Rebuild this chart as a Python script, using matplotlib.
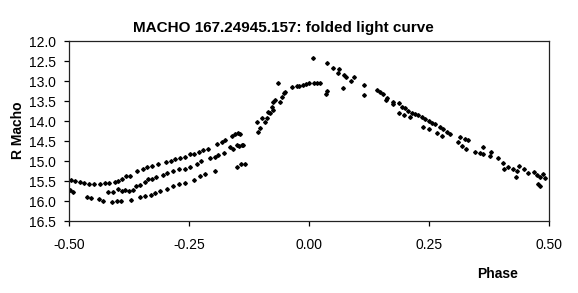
import matplotlib
matplotlib.use("Agg")
import matplotlib.pyplot as plt
from matplotlib.ticker import FormatStrFormatter

plt.rcParams["font.family"] = ["Liberation Sans", "DejaVu Sans"]
plt.rcParams["axes.unicode_minus"] = False

### folded light curve
# left part, three bands
top_phase = [-0.495, -0.488, -0.478, -0.468, -0.458, -0.447, -0.435, -0.425, -0.416, -0.405,
             -0.398, -0.390, -0.381, -0.373, -0.358, -0.345, -0.337, -0.328, -0.314, -0.298,
             -0.288, -0.279, -0.269, -0.258, -0.248, -0.240, -0.230, -0.220, -0.210, -0.192,
             -0.182, -0.175, -0.161, -0.154, -0.147, -0.144]
top_mag = [15.47, 15.50, 15.52, 15.55, 15.57, 15.57, 15.57, 15.55, 15.55, 15.53,
           15.49, 15.44, 15.37, 15.38, 15.25, 15.20, 15.16, 15.12, 15.08, 15.03,
           14.99, 14.96, 14.92, 14.89, 14.83, 14.82, 14.78, 14.72, 14.71, 14.58,
           14.52, 14.48, 14.38, 14.33, 14.29, 14.33]

mid_phase = [-0.498, -0.491, -0.418, -0.408, -0.397, -0.390, -0.383, -0.376, -0.366, -0.360,
             -0.352, -0.342, -0.335, -0.327, -0.318, -0.305, -0.296, -0.283, -0.270, -0.258,
             -0.248, -0.234, -0.224, -0.206, -0.196, -0.189, -0.178, -0.165, -0.158, -0.151,
             -0.145, -0.138]
mid_mag = [15.72, 15.77, 15.77, 15.77, 15.70, 15.75, 15.72, 15.74, 15.72, 15.63,
           15.60, 15.52, 15.45, 15.45, 15.40, 15.35, 15.30, 15.25, 15.20, 15.20,
           15.16, 15.07, 15.01, 14.93, 14.89, 14.85, 14.81, 14.66, 14.71, 14.60,
           14.63, 14.59]

low_phase = [-0.463, -0.455, -0.437, -0.430, -0.410, -0.400, -0.392, -0.370, -0.352, -0.342,
             -0.330, -0.320, -0.310, -0.296, -0.283, -0.270, -0.258, -0.240, -0.227, -0.217,
             -0.196, -0.151, -0.141, -0.134]
low_mag = [15.89, 15.93, 15.95, 15.99, 16.02, 16.00, 16.00, 15.98, 15.90, 15.88,
           15.85, 15.80, 15.75, 15.70, 15.63, 15.57, 15.55, 15.48, 15.37, 15.33,
           15.25, 15.14, 15.07, 15.07]

# rise to maximum
rise_phase = [-0.140, -0.109, -0.106, -0.102, -0.098, -0.091, -0.088, -0.085, -0.081, -0.078,
              -0.074, -0.074, -0.071, -0.064, -0.060, -0.057, -0.053, -0.050, -0.036, -0.026,
              -0.020, -0.012, -0.007, -0.001, 0.010, 0.017, 0.023]
rise_mag = [14.60, 14.02, 14.27, 14.18, 13.93, 14.02, 13.93, 13.77, 13.81, 13.64,
            13.73, 13.52, 13.47, 13.06, 13.52, 13.39, 13.31, 13.27, 13.16, 13.12,
            13.12, 13.10, 13.08, 13.06, 13.06, 13.06, 13.04]

# near maximum
peak_phase = [0.009, 0.038, 0.035, 0.038, 0.051, 0.061, 0.063, 0.070, 0.073, 0.078,
              0.087, 0.094, 0.114]
peak_mag = [12.43, 12.54, 13.33, 13.24, 12.68, 12.79, 12.71, 13.18, 12.85, 12.91,
            13.00, 12.91, 13.10]

# decline
fall_phase = [0.115, 0.141, 0.148, 0.155, 0.162, 0.160, 0.176, 0.176, 0.188, 0.193,
              0.200, 0.207, 0.214, 0.221, 0.228, 0.235, 0.242, 0.249, 0.256, 0.263,
              0.273, 0.280, 0.287, 0.294, 0.188, 0.198, 0.210, 0.238, 0.249, 0.266,
              0.277, 0.315, 0.325, 0.332, 0.311, 0.318, 0.327, 0.346, 0.356, 0.363,
              0.362, 0.377, 0.380, 0.394, 0.405, 0.406, 0.415, 0.426, 0.433, 0.438,
              0.447, 0.431, 0.457, 0.468, 0.475, 0.481, 0.488, 0.492, 0.478, 0.481]
fall_mag = [13.35, 13.22, 13.27, 13.32, 13.43, 13.47, 13.52, 13.57, 13.54, 13.64,
            13.68, 13.74, 13.79, 13.82, 13.85, 13.91, 13.96, 14.00, 14.04, 14.08,
            14.14, 14.21, 14.27, 14.32, 13.79, 13.85, 13.91, 14.14, 14.21, 14.31,
            14.38, 14.39, 14.46, 14.47, 14.52, 14.62, 14.71, 14.77, 14.81, 14.66,
            14.82, 14.87, 14.77, 14.93, 15.06, 15.21, 15.16, 15.21, 15.24, 15.13,
            15.21, 15.39, 15.31, 15.27, 15.35, 15.39, 15.33, 15.43, 15.57, 15.62]

x_ticks = [-0.50, -0.25, 0.00, 0.25, 0.50]
y_ticks = [12.0, 12.5, 13.0, 13.5, 14.0, 14.5, 15.0, 15.5, 16.0, 16.5]

fig = plt.figure(figsize=(5.78, 2.93), dpi=100)
ax = fig.add_axes([0.1194, 0.2457, 0.8304, 0.6143])

for ph, mag in [(top_phase, top_mag), (mid_phase, mid_mag), (low_phase, low_mag),
                (rise_phase, rise_mag), (peak_phase, peak_mag), (fall_phase, fall_mag)]:
    ax.plot(ph, mag, linestyle="none", marker="D", markersize=1.9, color="black")

ax.set_xlim(-0.5, 0.5)
ax.set_ylim(16.5, 12.0)
ax.set_xticks(x_ticks)
ax.set_yticks(y_ticks)
ax.xaxis.set_major_formatter(FormatStrFormatter("%.2f"))
ax.yaxis.set_major_formatter(FormatStrFormatter("%.1f"))
ax.tick_params(axis="x", direction="out", length=3.5, width=0.9, pad=9.0, labelsize=10)
ax.tick_params(axis="y", direction="out", length=3.5, width=0.9, pad=6.0, labelsize=10)
for s in ax.spines.values():
    s.set_color("#222222")
    s.set_linewidth(0.9)

fig.text(283 / 578, 1 - 28 / 293, "MACHO 167.24945.157: folded light curve",
         ha="center", va="center", fontsize=11, fontweight="bold")
fig.text(18 / 578, 1 - 130 / 293, "R Macho", rotation=90,
         ha="center", va="center", fontsize=10, fontweight="bold")
fig.text(498 / 578, 1 - 274 / 293, "Phase",
         ha="center", va="center", fontsize=10, fontweight="bold")

fig.savefig("out.png", dpi=100)
